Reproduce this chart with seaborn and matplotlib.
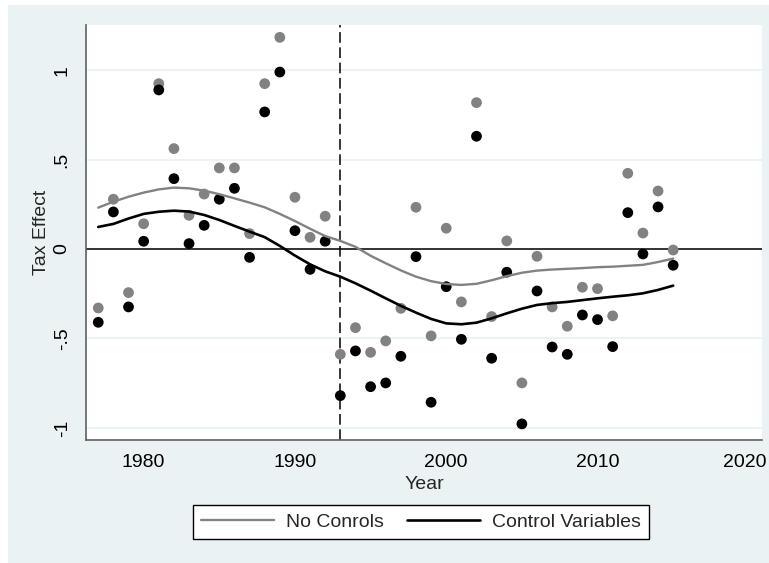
import numpy as np
import pandas as pd
import matplotlib
matplotlib.use("Agg")
import matplotlib.pyplot as plt
import matplotlib.transforms as mtransforms
import seaborn as sns
from matplotlib.patches import Rectangle
from matplotlib.lines import Line2D

# ---------------- data ----------------
years = list(range(1977, 2016))
no_controls = [-0.330, 0.278, -0.244, 0.141, 0.924, 0.561, 0.188, 0.307, 0.453, 0.453,
               0.086, 0.924, 1.183, 0.289, 0.065, 0.183, -0.589, -0.440, -0.578, -0.514,
               -0.332, 0.233, -0.486, 0.116, -0.296, 0.818, -0.378, 0.045, -0.749, -0.041,
               -0.324, -0.432, -0.214, -0.222, -0.374, 0.423, 0.089, 0.324, -0.006]
controls = [-0.410, 0.207, -0.324, 0.043, 0.889, 0.393, 0.030, 0.132, 0.278, 0.339,
            -0.047, 0.766, 0.989, 0.102, -0.114, 0.043, -0.820, -0.570, -0.770, -0.749,
            -0.600, -0.043, -0.857, -0.211, -0.505, 0.630, -0.611, -0.130, -0.978, -0.235,
            -0.548, -0.589, -0.369, -0.395, -0.546, 0.203, -0.028, 0.235, -0.091]
smooth_no_controls = [0.231, 0.264, 0.292, 0.315, 0.333, 0.343, 0.339, 0.326, 0.306, 0.283,
                      0.259, 0.233, 0.196, 0.156, 0.113, 0.072, 0.045, 0.012, -0.038, -0.080,
                      -0.120, -0.155, -0.180, -0.196, -0.201, -0.195, -0.175, -0.152, -0.133, -0.121,
                      -0.115, -0.111, -0.107, -0.102, -0.099, -0.094, -0.089, -0.073, -0.054]
smooth_controls = [0.123, 0.140, 0.170, 0.196, 0.208, 0.214, 0.209, 0.190, 0.162, 0.129,
                   0.097, 0.066, 0.017, -0.037, -0.086, -0.125, -0.155, -0.192, -0.233, -0.276,
                   -0.318, -0.356, -0.391, -0.416, -0.421, -0.412, -0.388, -0.360, -0.334, -0.313,
                   -0.303, -0.296, -0.286, -0.276, -0.267, -0.259, -0.248, -0.229, -0.205]
series_labels = ["No Conrols", "Control Variables"]
xticks = [1980, 1990, 2000, 2010, 2020]
yticks = [-1, -0.5, 0, 0.5, 1]
ytick_labels = ["-1", "-.5", "0", ".5", "1"]
policy_year = 1993
x_label = "Year"
y_label = "Tax Effect"

# ---------------- style ----------------
sns.set_style("white")
plt.rcParams["font.family"] = ["Liberation Sans", "DejaVu Sans"]

W, H = 769, 563
fig = plt.figure(figsize=(W / 100, H / 100), dpi=100)
fig.patch.set_facecolor("white")
bg = "#EAF2F3"
fig.patches.append(Rectangle((8 / W, 0), 1, 1 - 5 / H, transform=fig.transFigure,
                             facecolor=bg, edgecolor="none", zorder=-10))

ax = fig.add_axes([86 / W, 1 - 440 / H, (762 - 86) / W, (440 - 25) / H])
ax.set_facecolor("white")

df = pd.DataFrame({"year": years, "nc": no_controls, "c": controls,
                   "snc": smooth_no_controls, "sc": smooth_controls})

gray = "#828282"
sns.scatterplot(data=df, x="year", y="nc", ax=ax, color=gray, s=60, edgecolor="none",
                zorder=3, legend=False)
sns.scatterplot(data=df, x="year", y="c", ax=ax, color="black", s=60, edgecolor="none",
                zorder=4, legend=False)
sns.lineplot(data=df, x="year", y="snc", ax=ax, color=gray, lw=1.7, zorder=5,
             legend=False, estimator=None)
sns.lineplot(data=df, x="year", y="sc", ax=ax, color="black", lw=1.9, zorder=6,
             legend=False, estimator=None)

ax.axhline(0, color="black", lw=1.1, zorder=2)
ax.axvline(policy_year, color="black", lw=1.1, ls=(0, (7, 3)), zorder=2)

ax.set_xlim(1976.19, 2020.87)
ax.set_ylim(-1.068, 1.252)
ax.set_xticks(xticks)
ax.set_xticklabels([str(t) for t in xticks])
ax.set_yticks(yticks)
ax.set_yticklabels(ytick_labels, rotation=90, va="center")
ax.yaxis.grid(True, color=bg, lw=1.3, zorder=0)
ax.xaxis.grid(False)
ax.set_axisbelow(True)

for s in ["top", "right"]:
    ax.spines[s].set_visible(False)
for s in ["left", "bottom"]:
    ax.spines[s].set_color("#606060")
    ax.spines[s].set_linewidth(1.2)

ax.tick_params(axis="both", which="major", length=6, width=1, color="#606060",
               labelsize=14, labelcolor="black", direction="out")
ax.tick_params(axis="y", pad=5)
ax.tick_params(axis="x", pad=4)

# keep the last x tick label inside the canvas
last = ax.get_xticklabels()[-1]
last.set_transform(last.get_transform() +
                   mtransforms.ScaledTranslation(-4 / 100, 0, fig.dpi_scale_trans))

ax.set_xlabel(x_label, fontsize=14, labelpad=4)
ax.set_ylabel(y_label, fontsize=14, labelpad=3)

handles = [Line2D([], [], color=gray, lw=1.7), Line2D([], [], color="black", lw=1.9)]
leg = ax.legend(handles, series_labels, loc="center",
                bbox_to_anchor=(421 / W, 1 - 522 / H), bbox_transform=fig.transFigure,
                ncol=2, frameon=True, fancybox=False, framealpha=1, edgecolor="black",
                fontsize=14, handlelength=3.75, handletextpad=0.62, columnspacing=1.23,
                borderpad=0.4, borderaxespad=0)
leg.get_frame().set_linewidth(1.0)

fig.savefig("out.png", dpi=100, facecolor=fig.get_facecolor())
